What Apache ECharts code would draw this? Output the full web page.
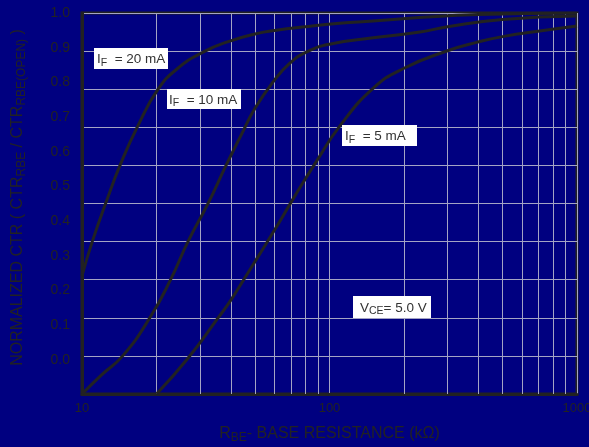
<!DOCTYPE html>
<html>
<head>
<meta charset="utf-8">
<script src="https://cdn.jsdelivr.net/npm/echarts@6/dist/echarts.min.js"></script>
<style>
html,body{margin:0;padding:0;background:#000080;}
#c{width:589px;height:447px;}
</style>
</head>
<body>
<div id="c"></div>
<script>
// ---- data ----
const xTickLabels = [10, 100, 1000];
const yTickLabels = ['0.0','0.1','0.2','0.3','0.4','0.5','0.6','0.7','0.8','0.9','1.0'];
const minorGridValues = [20, 30, 40, 50, 60, 70, 80, 90, 200, 300, 400, 500, 600, 700, 800, 900];

const rbe20 = [10, 11, 12.7, 14.2, 16.7, 20.3, 24.4, 31, 39, 50, 60, 80, 110, 150, 230, 400, 1000];
const ctr20 = [0.31, 0.40, 0.515, 0.598, 0.70, 0.80, 0.855, 0.898, 0.925, 0.945, 0.954, 0.964, 0.973, 0.979, 0.988, 0.996, 1.0];

const rbe10 = [10, 12, 14.6, 18.8, 22.8, 26.8, 32.3, 38.2, 44, 50, 59.3, 69, 81, 100, 150, 232, 300, 500, 1000];
const ctr10 = [0.0, 0.05, 0.10, 0.20, 0.30, 0.40, 0.50, 0.60, 0.68, 0.75, 0.82, 0.868, 0.898, 0.918, 0.935, 0.95, 0.964, 0.983, 0.992];

const rbe5 = [20, 26.8, 35.4, 40, 45.4, 51.4, 59.3, 72.5, 88.8, 110, 150, 200, 300, 393, 500, 730, 1000];
const ctr5 = [0, 0.094, 0.199, 0.247, 0.304, 0.36, 0.425, 0.52, 0.612, 0.703, 0.802, 0.855, 0.901, 0.923, 0.938, 0.954, 0.966];

const seriesNames = ['IF = 20 mA', 'IF = 10 mA', 'IF = 5 mA'];

// ---- chart ----
const zip = (xs, ys) => xs.map((x, i) => [x, ys[i]]);
const dark = '#222222';
const gridColor = '#a4a4c4';
const font = 'Liberation Sans, Arial, Helvetica, sans-serif';

const chart = echarts.init(document.getElementById('c'), null, {renderer: 'canvas'});

const curve = (name, xs, ys) => ({
  name, type: 'line', xAxisIndex: 0, yAxisIndex: 0,
  data: zip(xs, ys), smooth: 0.5,
  showSymbol: false, symbol: 'none', silent: true, z: 5,
  lineStyle: {color: dark, width: 3}
});

const subRich = {
  s: {fontSize: 12, padding: [8, 0, 0, 0], fontFamily: font, color: dark}
};

const boxLabel = (x, y, w, h, main, sub, rest, tx) => ({
  type: 'group', left: x, top: y, z: 100,
  children: [
    {type: 'rect', z: 100, shape: {x: 0, y: 0, width: w, height: h}, style: {fill: '#ffffff'}},
    {type: 'text', z: 101, x: tx, y: h / 2 + 1, style: {
      text: main + '{s|' + sub + '}' + rest,
      fill: '#333', font: '13.5px ' + font, verticalAlign: 'middle', align: 'left',
      rich: {s: {fontSize: 10.5, padding: [7, 0, 0, 0], fontFamily: font, fill: '#333', color: '#333'}}
    }}
  ]
});

chart.setOption({
  backgroundColor: '#000080',
  animation: false,
  textStyle: {fontFamily: font},
  grid: [
    {left: 82, right: 12, top: 13, bottom: 53, show: true, borderColor: dark, borderWidth: 3, backgroundColor: 'transparent', containLabel: false, outerBoundsMode: 'none'},
    {left: 82, right: 12, top: 13, height: 347, show: false, containLabel: false, outerBoundsMode: 'none'}
  ],
  xAxis: [
    {
      type: 'log', logBase: 10, min: xTickLabels[0], max: xTickLabels[xTickLabels.length - 1], gridIndex: 0,
      axisLine: {show: true, lineStyle: {color: dark, width: 3}},
      axisTick: {show: false},
      splitLine: {show: true, lineStyle: {color: gridColor, width: 1}},
      axisLabel: {color: dark, fontSize: 13, margin: 8, formatter: v => String(Math.round(v))},
      name: 'R{s|BE}- BASE RESISTANCE (kΩ)',
      nameLocation: 'middle', nameGap: 30,
      nameTextStyle: {color: dark, fontSize: 16, fontFamily: font, rich: subRich}
    },
    {type: 'value', gridIndex: 1, show: false, min: 0, max: 1}
  ],
  yAxis: [
    {
      type: 'value', min: 0, max: 1, interval: 0.1, gridIndex: 0,
      axisLine: {show: true, lineStyle: {color: dark, width: 3}},
      axisTick: {show: false},
      axisLabel: {show: false},
      splitLine: {show: true, lineStyle: {color: gridColor, width: 1}},
      name: 'NORMALIZED CTR ( CTR{s|RBE} / CTR{s|RBE(OPEN)} )',
      nameLocation: 'middle', nameRotate: 90, nameGap: 54,
      nameTextStyle: {color: dark, fontSize: 16, fontFamily: font, rich: subRich, padding: [0, 0, 0, 12]}
    },
    {
      type: 'value', min: 0, max: 1, interval: 0.1, gridIndex: 1,
      axisLine: {show: false}, axisTick: {show: false}, splitLine: {show: false},
      axisLabel: {color: dark, fontSize: 14, margin: 12,
        formatter: v => yTickLabels[Math.round(v * 10)]}
    }
  ],
  series: [
    {
      type: 'line', xAxisIndex: 0, yAxisIndex: 0, data: [], silent: true, z: 1,
      markLine: {
        silent: true, symbol: ['none', 'none'], animation: false, z: 1,
        label: {show: false},
        lineStyle: {color: gridColor, width: 1, type: 'solid'},
        data: minorGridValues.map(v => ({xAxis: v}))
      }
    },
    curve(seriesNames[0], rbe20, ctr20),
    curve(seriesNames[1], rbe10, ctr10),
    curve(seriesNames[2], rbe5, ctr5)
  ],
  graphic: {
    z: 100,
    elements: [
      boxLabel(94, 48, 74, 21, 'I', 'F', '  = 20 mA', 3),
      boxLabel(167, 89, 74, 20, 'I', 'F', '  = 10 mA', 2),
      boxLabel(342, 125, 75, 21, 'I', 'F', '  = 5 mA', 3),
      boxLabel(353, 296, 78, 22, 'V', 'CE', '= 5.0 V', 7)
    ]
  }
});
</script>
</body>
</html>
